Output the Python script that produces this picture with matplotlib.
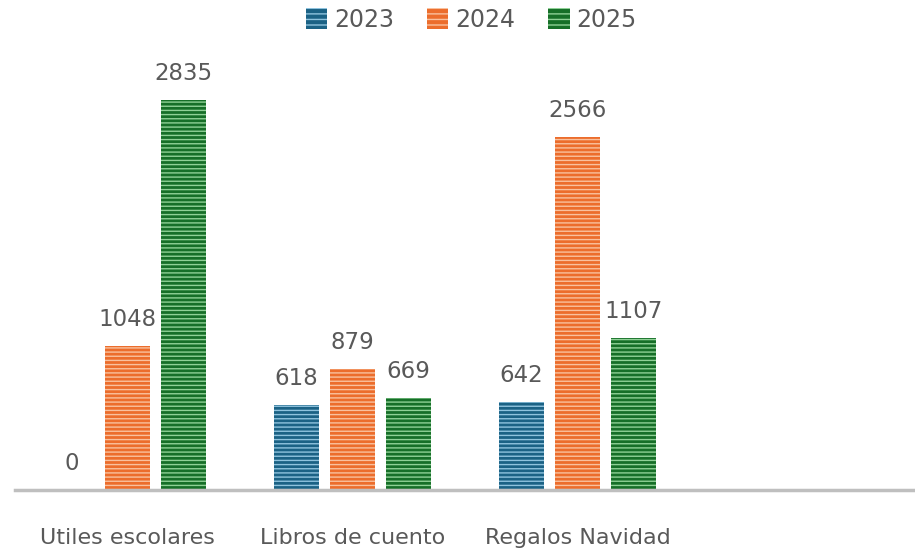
import numpy as np
import matplotlib.pyplot as plt
from matplotlib.patches import Patch

plt.rcParams['hatch.linewidth'] = 1.0

# Data
categories = ["Utiles escolares", "Libros de cuento", "Regalos Navidad", ""]
years = ["2023", "2024", "2025"]
v2023 = [0, 618, 642]
v2024 = [1048, 879, 2566]
v2025 = [2835, 669, 1107]

faces = ["#1b6285", "#ec6d2c", "#166f28"]
stripes = ["#8fc3de", "#f9c19e", "#8fd196"]
text_gray = "#595959"

fig = plt.figure(figsize=(9.15, 5.49), dpi=100)
ax = fig.add_axes([15 / 915, 59 / 549, 900 / 915, 446 / 549])

x = np.arange(3)
width = 0.2
step = 0.25
for i, (vals, fc, sc) in enumerate(zip([v2023, v2024, v2025], faces, stripes)):
    pos = x + (i - 1) * step
    bars = ax.bar(pos, vals, width, color=fc, edgecolor=sc, linewidth=0,
                  hatch="----")
    for b, v in zip(bars, vals):
        ax.text(b.get_x() + b.get_width() / 2, v + 110, str(v), ha="center",
                va="bottom", fontsize=16.5, color=text_gray)

ax.set_xlim(-0.5, 3.5)
ax.set_ylim(0, 446 / 0.1376)
for s in ["top", "right", "left"]:
    ax.spines[s].set_visible(False)
ax.spines["bottom"].set_color("#bfbfbf")
ax.spines["bottom"].set_linewidth(2.5)
ax.set_yticks([])
ax.set_xticks(np.arange(4))
ax.set_xticklabels(categories, fontsize=16, color=text_gray)
ax.tick_params(axis="x", length=0, pad=27)

handles = [Patch(facecolor=fc, edgecolor=sc, linewidth=0, hatch="---")
           for fc, sc in zip(faces, stripes)]
fig.legend(handles, years, loc="upper center", bbox_to_anchor=(0.515, 1.025),
           ncol=3, frameon=False, fontsize=17, labelcolor=text_gray,
           handlelength=0.9, handleheight=1.0, handletextpad=0.3,
           columnspacing=1.4)

fig.savefig("out.png", dpi=100)
